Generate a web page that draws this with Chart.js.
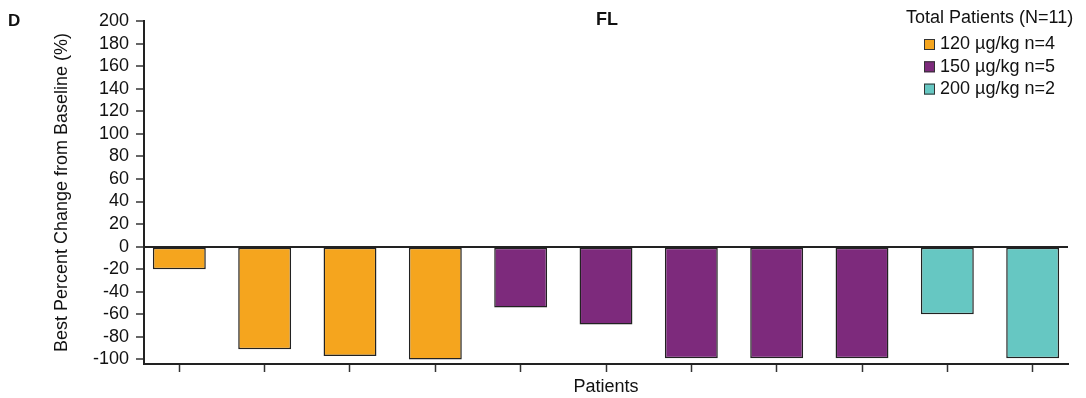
<!DOCTYPE html>
<html>
<head>
<meta charset="utf-8">
<script src="https://cdn.jsdelivr.net/npm/chart.js@4"></script>
<style>
  html, body { margin: 0; padding: 0; background: #fff; }
  #wrap { width: 1086px; height: 398px; position: relative; }
</style>
</head>
<body>
<div id="wrap"><canvas id="c"></canvas></div>
<script>
// ---- data ----
const panelLabel = 'D';
const chartTitle = 'FL';
const patients = ['1','2','3','4','5','6','7','8','9','10','11'];
const bestChange = [-20, -91, -97, -100, -54, -69, -99, -99, -99, -60, -99];
const doseGroup = [0, 0, 0, 0, 1, 1, 1, 1, 1, 2, 2];
const doseLabels = ['120 µg/kg n=4', '150 µg/kg n=5', '200 µg/kg n=2'];
const legendTitle = 'Total Patients (N=11)';
const yTicks = [-100, -80, -60, -40, -20, 0, 20, 40, 60, 80, 100, 120, 140, 160, 180, 200];
const xTitle = 'Patients';
const yTitle = 'Best Percent Change from Baseline (%)';

// ---- styles ----
const groupColors = ['#F5A51E', '#7D2A7C', '#66C7C2'];
const FONT = '"Liberation Sans", Arial, Helvetica, sans-serif';
const INK = '#111';

const overlay = {
  id: 'overlay',
  afterDraw(chart) {
    const ctx = chart.ctx;
    const ca = chart.chartArea;
    ctx.save();
    ctx.fillStyle = INK;
    ctx.textBaseline = 'middle';
    ctx.textAlign = 'left';
    ctx.font = 'bold 17px ' + FONT;
    ctx.fillText(panelLabel, 8, 21);
    ctx.textAlign = 'center';
    ctx.font = 'bold 18px ' + FONT;
    ctx.fillText(chartTitle, (ca.left + ca.right) / 2 + 1, 20);
    // legend
    ctx.textAlign = 'left';
    ctx.font = '18px ' + FONT;
    ctx.fillText(legendTitle, 906, 18);
    doseLabels.forEach((lab, i) => {
      const cy = 44.5 + i * 22.3;
      ctx.fillStyle = groupColors[i];
      ctx.fillRect(924, cy - 5.5, 11, 11);
      ctx.strokeStyle = '#333';
      ctx.lineWidth = 1;
      ctx.strokeRect(924.5, cy - 5, 10, 10);
      ctx.fillStyle = INK;
      ctx.fillText(lab, 940, cy);
    });
    ctx.restore();
  }
};

new Chart(document.getElementById('c'), {
  type: 'bar',
  data: {
    datasets: [{
      data: bestChange.map((v, i) => ({ x: i + 1, y: v })),
      backgroundColor: doseGroup.map(g => groupColors[g]),
      borderColor: '#222',
      borderWidth: 1.5,
      borderSkipped: false,
      categoryPercentage: 1,
      barPercentage: 0.62
    }]
  },
  options: {
    responsive: true,
    maintainAspectRatio: false,
    animation: false,
    layout: { padding: { top: 21, right: 18, bottom: 0, left: 0 } },
    plugins: { legend: { display: false }, tooltip: { enabled: false } },
    scales: {
      x: {
        type: 'linear',
        min: 0.586,
        max: 11.414,
        offset: false,
        afterBuildTicks: s => { s.ticks = patients.map((p, i) => ({ value: i + 1 })); },
        afterFit: s => { s.height = 34; },
        ticks: { callback: () => '', autoSkip: false },
        grid: {
          offset: false,
          drawOnChartArea: false,
          drawTicks: true,
          tickLength: 8,
          tickColor: '#333',
          tickWidth: 1.5
        },
        border: { color: '#222', width: 2 },
        title: {
          display: true,
          text: xTitle,
          color: INK,
          font: { family: FONT, size: 18 },
          padding: { top: 0, bottom: 0 }
        }
      },
      y: {
        min: -104,
        max: 200,
        afterBuildTicks: s => { s.ticks = yTicks.map(v => ({ value: v })); },
        afterFit: s => { s.width = 144; },
        ticks: {
          autoSkip: false,
          color: INK,
          padding: 7,
          font: { family: FONT, size: 18 }
        },
        grid: {
          drawOnChartArea: true,
          color: c => (c.tick && c.tick.value === 0 ? '#222' : 'rgba(0,0,0,0)'),
          lineWidth: 2,
          tickColor: '#333',
          tickWidth: 1.5,
          tickLength: 8
        },
        border: { color: '#222', width: 2 },
        title: {
          display: true,
          text: yTitle,
          color: INK,
          font: { family: FONT, size: 18 },
          padding: { top: 51, bottom: 0 }
        }
      }
    }
  },
  plugins: [overlay]
});
</script>
</body>
</html>
